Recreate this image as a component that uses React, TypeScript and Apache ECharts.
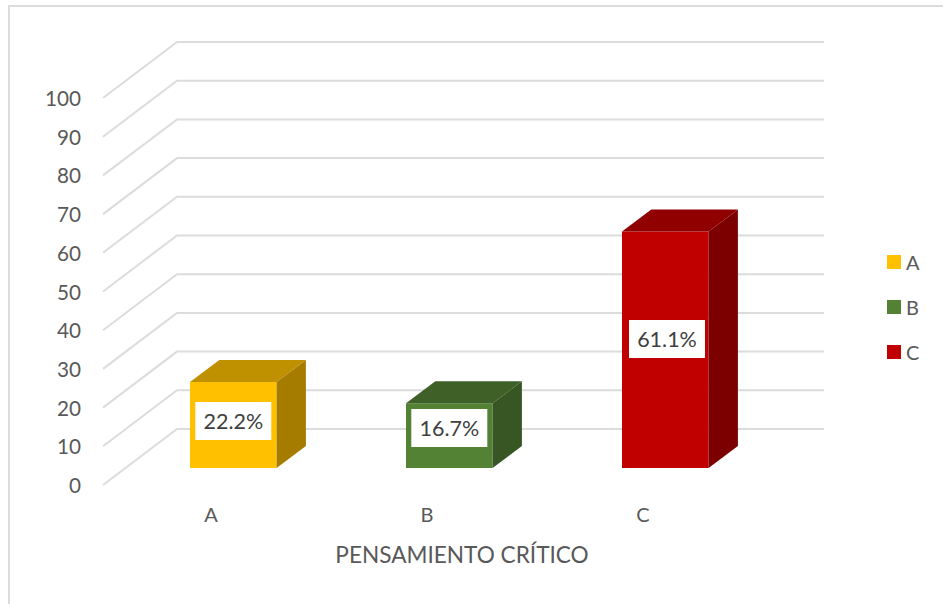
import React, { useEffect, useRef } from "react";
import * as echarts from "echarts";

const categories = ["A", "B", "C"];
const seriesValues = [22.2, 16.7, 61.1];
const percentLabels = ["22.2%", "16.7%", "61.1%"];
const gridTicks = [0, 10, 20, 30, 40, 50, 60, 70, 80, 90, 100];
const axisTitle = "PENSAMIENTO CRÍTICO";

const frontColors = ["#FFC000", "#548235", "#C00000"];
const topColors = ["#BF9000", "#3F6128", "#900000"];
const sideColors = ["#A67C00", "#375623", "#7C0000"];
const labelRise = [47, 40, 129];
const labelShift = [0, 0, 1.7];

const FONT = "Lato";
const TEXT = "#595959";
const GRID = "#DCDCDC";

export default function App() {
  const ref = useRef<HTMLDivElement>(null);
  useEffect(() => {
    document.body.style.margin = "0";
    const chart = echarts.init(ref.current!, null, { renderer: "svg" });
    const barSeries = categories.map((name, i) => ({
      name,
      type: "custom",
      coordinateSystem: "cartesian2d",
      z: 5,
      itemStyle: { color: frontColors[i] },
      data: [[name, seriesValues[i]]],
      renderItem: (_p: any, api: any) => {
        const base = api.coord([name, 0]);
        const top = api.coord([name, seriesValues[i]]);
        const cx = base[0] + 22.3;
        const y0 = base[1] - 17;
        const y1 = top[1] - 17;
        const hw = 43.3;
        const dx = 29.3;
        const dy = 22;
        const l = cx - hw;
        const r = cx + hw;
        const labelY = y0 - labelRise[i];
        const labelX = cx + labelShift[i];
        return {
          type: "group",
          children: [
            { type: "rect", shape: { x: l, y: y1, width: r - l, height: y0 - y1 }, style: { fill: frontColors[i] } },
            { type: "polygon", shape: { points: [[l, y1], [r, y1], [r + dx, y1 - dy], [l + dx, y1 - dy]] }, style: { fill: topColors[i] } },
            { type: "polygon", shape: { points: [[r, y1], [r + dx, y1 - dy], [r + dx, y0 - dy], [r, y0]] }, style: { fill: sideColors[i] } },
            { type: "rect", shape: { x: labelX - 38, y: labelY - 19, width: 76, height: 38 }, style: { fill: "#FFFFFF" } },
            {
              type: "text",
              x: labelX,
              y: labelY,
              style: { text: percentLabels[i], align: "center", verticalAlign: "middle", fill: "#404040", font: `21.5px ${FONT}` },
            },
          ],
        };
      },
    }));

    chart.setOption({
      animation: false,
      backgroundColor: "#FFFFFF",
      graphic: [
        {
          type: "polyline",
          shape: { points: [[9, 610], [9, 6], [950, 6]] },
          style: { fill: "none", stroke: GRID, lineWidth: 2 },
          silent: true,
        },
      ],
      grid: { left: 103, top: 98, width: 648, height: 387 },
      legend: {
        orient: "vertical",
        left: 882,
        top: 247,
        itemWidth: 14,
        itemHeight: 14,
        itemGap: 25,
        selectedMode: false,
        icon: "rect",
        data: categories,
        textStyle: { color: TEXT, fontFamily: FONT, fontSize: 20 },
      },
      xAxis: {
        type: "category",
        data: categories,
        name: axisTitle,
        nameLocation: "middle",
        nameGap: 58,
        nameTextStyle: { color: TEXT, fontFamily: FONT, fontSize: 22.6, padding: [0, 0, 0, 70] },
        axisLine: { show: false },
        axisTick: { show: false },
        splitLine: { show: false },
        axisLabel: { color: TEXT, fontFamily: FONT, fontSize: 20, margin: 19 },
      },
      yAxis: {
        type: "value",
        min: 0,
        max: 100,
        interval: 10,
        axisLine: { show: false },
        axisTick: { show: false },
        splitLine: { show: false },
        axisLabel: { color: TEXT, fontFamily: FONT, fontSize: 20.7, margin: 22 },
      },
      series: [
        {
          name: "walls",
          type: "custom",
          coordinateSystem: "cartesian2d",
          z: 1,
          silent: true,
          data: gridTicks.map((t) => ["A", t]),
          renderItem: (params: any, api: any) => {
            const v = api.value(1);
            const y = api.coord(["A", v])[1];
            const cs = params.coordSys;
            const dx = 74;
            const dy = 56;
            return {
              type: "polyline",
              shape: { points: [[cs.x, y], [cs.x + dx, y - dy], [cs.x + cs.width + dx - 1, y - dy]] },
              style: { fill: "none", stroke: GRID, lineWidth: 2 },
            };
          },
        },
        ...barSeries,
      ],
    });
    return () => chart.dispose();
  }, []);
  return <div ref={ref} style={{ width: 943, height: 604 }} />;
}
